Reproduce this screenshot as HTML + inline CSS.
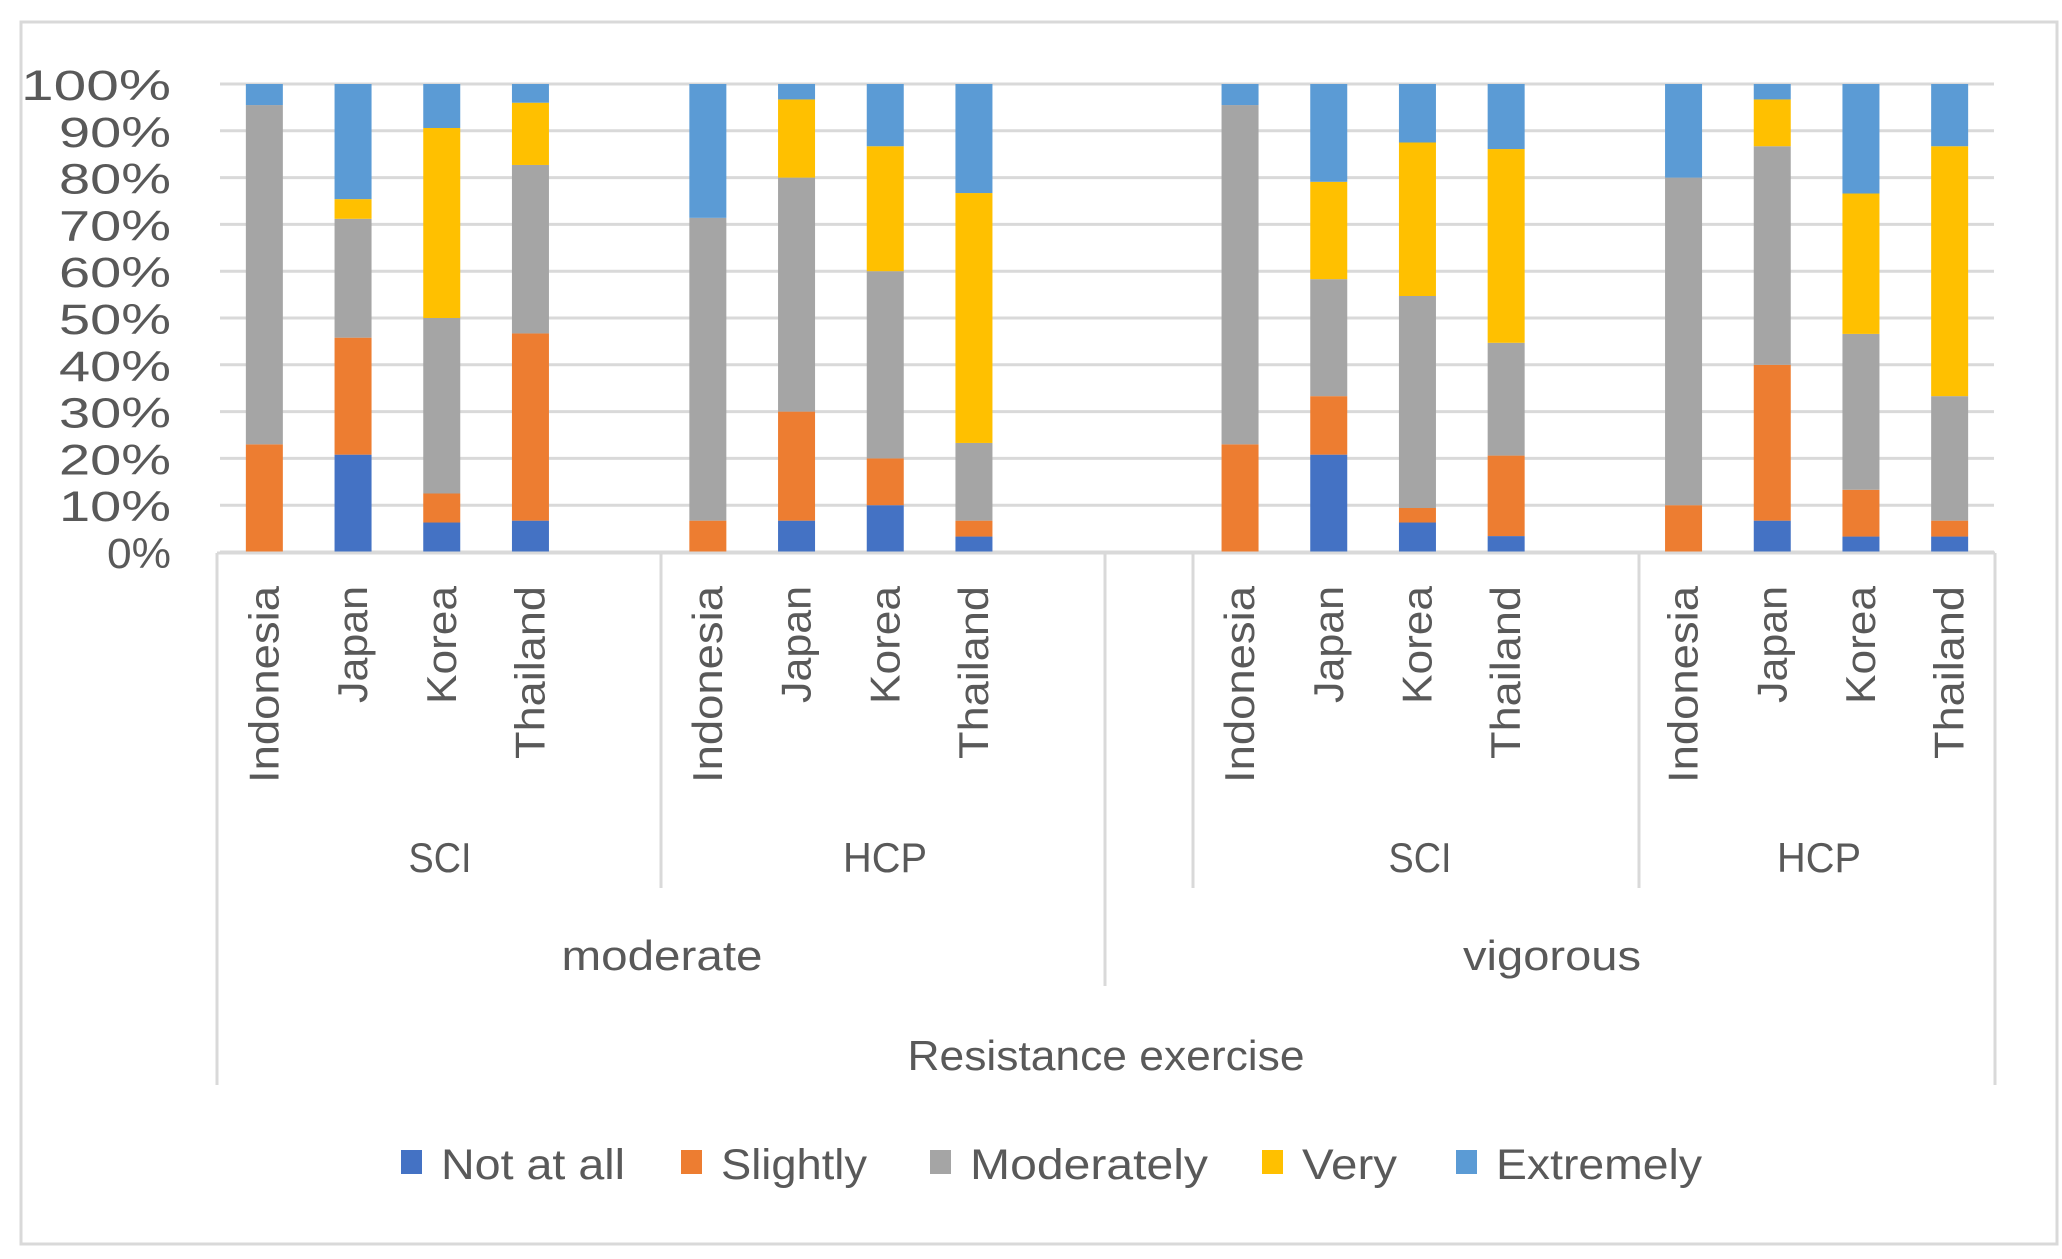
<!DOCTYPE html>
<html><head><meta charset="utf-8"><style>
html,body{margin:0;padding:0;background:#fff;}
svg{display:block;font-family:"Liberation Sans",sans-serif;}
</style></head><body>
<svg id="chart" width="2062" height="1259" viewBox="0 0 2062 1259">
<rect x="21" y="22" width="2036" height="1222" fill="#fff" stroke="#d9d9d9" stroke-width="3"/>
<g id="grid"></g><g id="bars"></g><g id="axis"></g><g id="legend"></g>
</svg>
<script>
const ticks = ["0%","10%","20%","30%","40%","50%","60%","70%","80%","90%","100%"];
const countries = ["Indonesia","Japan","Korea","Thailand"];
const groups = ["SCI","HCP","SCI","HCP"];
const intensities = ["moderate","vigorous"];
const seriesNames = ["Not at all","Slightly","Moderately","Very","Extremely"];
const colors = ["#4472C4","#ED7D31","#A5A5A5","#FFC000","#5B9BD5"];
// values per bar in order: modSCI(4), modHCP(4), vigSCI(4), vigHCP(4)
const notAtAll   = [0,20.8,6.3,6.7, 0,6.7,10,3.3, 0,20.8,6.3,3.4, 0,6.7,3.3,3.3];
const slightly   = [23,25,6.2,40, 6.7,23.3,10,3.4, 23,12.5,3.1,17.2, 10,33.3,10,3.4];
const moderately = [72.5,25.4,37.5,36, 64.7,50,40,16.6, 72.5,25,45.3,24.1, 70,46.7,33.3,26.6];
const very       = [0,4.2,40.6,13.3, 0,16.7,26.7,53.4, 0,20.8,32.8,41.4, 0,10,30,53.4];
const extremely  = [4.5,24.6,9.4,4, 28.6,3.3,13.3,23.3, 4.5,20.9,12.5,13.9, 20,3.3,23.4,13.3];
const series = [notAtAll,slightly,moderately,very,extremely];
const slotIdx = [0,1,2,3, 5,6,7,8, 11,12,13,14, 16,17,18,19];

const NS="http://www.w3.org/2000/svg";
const X0=220, X1=1994, Y0=552, Y100=84, NSLOT=20;
const slotW=(X1-X0)/NSLOT;
const y=v=>Y0-(Y0-Y100)*v/100;
const xs=i=>X0+slotW*(i+0.5);
function mk(tag,attrs,parent,txt){const e=document.createElementNS(NS,tag);for(const k in attrs)e.setAttribute(k,attrs[k]);if(txt!=null)e.textContent=txt;document.getElementById(parent).appendChild(e);return e;}
function fit(e,len){e.setAttribute('textLength',len);e.setAttribute('lengthAdjust','spacingAndGlyphs');}

ticks.forEach((t,i)=>{
  const v=i*10;
  const g=mk('line',{x1:X0,x2:X1,y1:y(v),y2:y(v),stroke:'#d9d9d9','stroke-width':3},'grid');
  
  
  const tl=mk('text',{x:171,y:y(v)+16,'text-anchor':'end','font-size':43,fill:'#595959'},'axis',t);
  fit(tl,t.length===4?150:(t.length===3?112:64));
  
  
});

const cLen={Indonesia:197,Japan:117,Korea:118,Thailand:173};
slotIdx.forEach((s,b)=>{
  let acc=0; const cx=xs(s), bw=37;
  series.forEach((arr,k)=>{
    const v=arr[b]; if(v<=0){return;}
    const r=mk('rect',{x:cx-bw/2,y:y(acc+v),width:bw,height:y(acc)-y(acc+v),fill:colors[k]},'bars');
    
    
    acc+=v;
  });
  const name=countries[b%4];
  const lab=mk('text',{x:0,y:0,transform:`translate(${cx+14},586) rotate(-90)`,'text-anchor':'end','font-size':42,fill:'#595959'},'axis',name);
  fit(lab,cLen[name]);
  
  
});

// category axis lines
const vlines=[[217,1085],[661,888],[1105,986],[1193,888],[1639,888],[1995,1085]];
mk('line',{x1:217,x2:1995,y1:553,y2:553,stroke:'#d9d9d9','stroke-width':3},'axis');
vlines.forEach(([x,yb])=>{
  const l=mk('line',{x1:x,x2:x,y1:553,y2:yb,stroke:'#d9d9d9','stroke-width':3},'axis');
  
  
});
const groupX=[440,885,1420,1819];
groups.forEach((g,i)=>{
  const t=mk('text',{x:groupX[i],y:872,'text-anchor':'middle','font-size':42,fill:'#595959'},'axis',g);
  fit(t,g==='SCI'?63:84);
  
  
});
const intX=[662,1552], intLen=[201,178];
intensities.forEach((n,i)=>{
  const t=mk('text',{x:intX[i],y:970,'text-anchor':'middle','font-size':42,fill:'#595959'},'axis',n);
  fit(t,intLen[i]);
  
  
});
const rt=mk('text',{x:1106,y:1070,'text-anchor':'middle','font-size':42,fill:'#595959'},'axis','Resistance exercise');
fit(rt,397);



const legX=[401,681,930,1262,1456], legLen=[184,146,238,95,206];
seriesNames.forEach((n,i)=>{
  const k=mk('rect',{x:legX[i],y:1150,width:21,height:24,fill:colors[i]},'legend');
  
  
  const t=mk('text',{x:legX[i]+40,y:1179,'font-size':43,fill:'#595959'},'legend',n);
  fit(t,legLen[i]);
  
  
});
</script>
</body></html>
